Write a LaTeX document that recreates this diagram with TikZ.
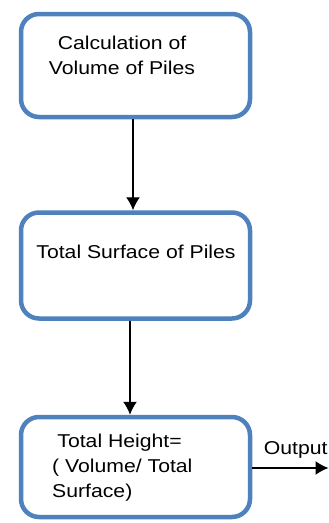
\documentclass[tikz,border=0pt]{standalone}
\usepackage{fontspec}
\setmainfont{Liberation Sans}[FakeStretch=1.14]
\usetikzlibrary{arrows.meta}

\definecolor{boxblue}{RGB}{79,129,189}

\tikzset{
	pilebox/.style={draw=boxblue, line width=4.5pt, rounded corners=18pt, fill=white,
		minimum width=229pt, minimum height=103pt},
	piletext/.style={inner sep=0pt, font=\fontsize{18.6}{25}\selectfont},
	flow/.style={-{Latex[length=13pt,width=14pt]}, line width=1.3pt}
}

\begin{document}
\begin{tikzpicture}[x=1pt, y=-1pt]
	\useasboundingbox (0,0) rectangle (329,523);

	% the three steps, top to bottom
	\node (vol) [pilebox] at (135.5, 65.5) {};
	\node (surf) [pilebox, minimum height=106pt] at (135.5, 265.5) {};
	\node (hgt) [pilebox, minimum height=100pt] at (135.5, 467) {};

	\node (voltext) [piletext, align=center] at (122, 55.3) {Calculation of\\Volume of Piles};
	\node (surftext) [piletext] at (136, 251.5) {Total Surface of Piles};
	\node (hgttext) [piletext, align=left, anchor=west] at (52, 467.5)
		{\hspace*{0.28em}Total Height=\\( Volume/ Total\\Surface)};

	\coordinate (out) at (328.5, 468);

	\path
	([xshift=-2.5pt]vol.south) edge[flow] ([xshift=-2.5pt]surf.north)
	([xshift=-5.5pt]surf.south) edge[flow] ([xshift=-5.5pt]hgt.north)
	(hgt.east |- out) edge[flow] node[piletext, above=9pt, pos=0.57] (outtext) {Output} (out);

\end{tikzpicture}
\end{document}
